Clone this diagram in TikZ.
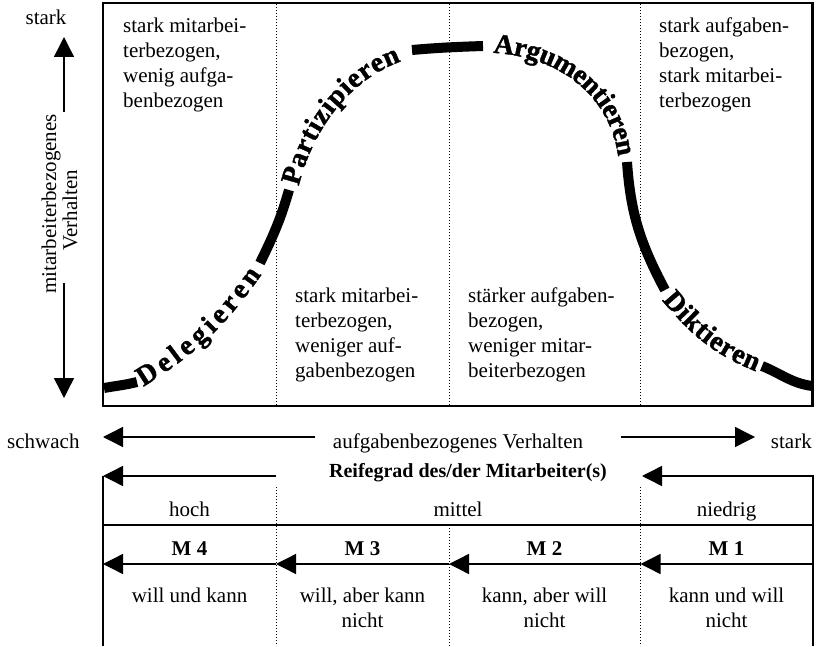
\documentclass[tikz,border=0pt]{standalone}
\usepackage{fontspec}
\setmainfont{Liberation Serif}
\newfontfamily\curvefamily{Liberation Serif Bold}[FakeBold=1.4]
\usetikzlibrary{arrows.meta,decorations.text}

% lettering that follows the bell curve
\newcommand\curvefont{\curvefamily\fontsize{28}{32}\selectfont}

\tikzset{
  frame/.style={line width=2.5pt},
  rulebar/.style={line width=1.6pt},
  guide/.style={line width=0.9pt, dash pattern=on 1pt off 2pt},
  axis/.style={line width=1.4pt, -{Triangle[length=20pt,width=20pt]}},
  band/.style={line width=10pt},
  lbl/.style={inner sep=0pt, font=\fontsize{21}{25}\selectfont},
  boldlbl/.style={lbl, font=\fontsize{21}{25}\selectfont\bfseries},
  curvetext/.style={decorate, decoration={text along path,
      text={|\curvefont|#1}, text align={fit to path}, raise=-8pt}}
}

\begin{document}
\begin{tikzpicture}[x=1pt,y=1pt]
\useasboundingbox (0,0) rectangle (816,646);

% ---------- upper panel ----------
\draw[frame] (103,240) rectangle (812.5,643);
\foreach \gx in {276,449,640.5}
  \draw[guide] (\gx,241.5) -- (\gx,641.5);

% vertical axis: relationship behaviour
\node[lbl, anchor=base] (ystark) at (46,621) {stark};
\coordinate (yup0) at (64,534);
\coordinate (yup1) at (64,609);
\draw[axis] (yup0) -- (yup1);
\coordinate (ydn0) at (64,363);
\coordinate (ydn1) at (64,248);
\draw[axis] (ydn0) -- (ydn1);
\node[lbl, rotate=90, anchor=base] (ylab1) at (56,442) {mitarbeiterbezogenes};
\node[lbl, rotate=90, anchor=base] (ylab2) at (77,436) {Verhalten};

% quadrant descriptions
\node[lbl, anchor=base west] (q1) at (123,613)
  {\begin{tabular}[t]{@{}l@{}}stark mitarbei-\\terbezogen,\\wenig aufga-\\benbezogen\end{tabular}};
\node[lbl, anchor=base west] (q2) at (295,343)
  {\begin{tabular}[t]{@{}l@{}}stark mitarbei-\\terbezogen,\\weniger auf-\\gabenbezogen\end{tabular}};
\node[lbl, anchor=base west] (q3) at (468,343)
  {\begin{tabular}[t]{@{}l@{}}stärker aufgaben-\\bezogen,\\weniger mitar-\\beiterbezogen\end{tabular}};
\node[lbl, anchor=base west] (q4) at (659,613)
  {\begin{tabular}[t]{@{}l@{}}stark aufgaben-\\bezogen,\\stark mitarbei-\\terbezogen\end{tabular}};

% bell curve: solid pieces and lettered pieces
\draw[band] (104,258) to[out=10,in=194] (137,264);
\path[curvetext=Delegieren] (139,266) to[out=32,in=235] (255,376);
\draw[band] (260,383) to[out=64,in=254] (289,456);
\path[curvetext=Partizipieren] (291,462) to[out=76,in=200,looseness=0.9] (398,592);
\draw[band] (412,596) to[out=5,in=182] (483,600);
\path[curvetext=Argumentieren] (494,601) to[out=-3,in=98] (626,491);
\draw[band] (627,484) to[out=-86,in=118] (665,356);
\path[curvetext=Diktieren] (668,351) to[out=-50,in=158] (759,282);
\draw[band] (762,280) to[out=-22,in=172] (812,260);

% ---------- horizontal axis: task behaviour ----------
\node[lbl, anchor=base west] (xweak) at (7,198) {schwach};
\node[lbl, anchor=base] (xlab) at (458,198) {aufgabenbezogenes Verhalten};
\node[lbl, anchor=base east] (xstrong) at (812,198) {stark};
\coordinate (xl0) at (315,209);
\coordinate (xl1) at (103,209);
\coordinate (xr0) at (621,209);
\coordinate (xr1) at (755,209);
\draw[axis] (xl0) -- (xl1);
\draw[axis] (xr0) -- (xr1);

% ---------- maturity table ----------
\node[lbl, anchor=base, font=\fontsize{20}{24}\selectfont\bfseries] (rg) at (468,168.5)
  {Reifegrad des/der Mitarbeiter(s)};
\coordinate (rgL0) at (276,170);
\coordinate (rgL1) at (103,170);
\coordinate (rgLb) at (103,0);
\coordinate (rgR0) at (813,0);
\coordinate (rgRc) at (813,170);
\coordinate (rgR1) at (642,170);
\draw[axis] (rgL0) -- (rgL1);
\draw[rulebar] (rgL1) -- (rgLb);
\draw[axis] (rgR0) -- (rgRc) -- (rgR1);

\draw[guide] (276,159) -- (276,0);
\draw[guide] (640.5,159) -- (640.5,0);
\draw[guide] (449,121) -- (449,0);
\draw[rulebar] (103,121) -- (813,121);

\node[lbl, anchor=base] (hoch) at (189.5,129.3) {hoch};
\node[lbl, anchor=base] (mittel) at (458,129.3) {mittel};
\node[lbl, anchor=base] (niedrig) at (726.5,129.3) {niedrig};

% maturity levels M1 ... M4
\coordinate (m0) at (103,82);
\coordinate (m1) at (276,82);
\coordinate (m2) at (449,82);
\coordinate (m3) at (640.5,82);
\coordinate (m4) at (813,82);
\draw[axis] (m1) -- (m0);
\draw[axis] (m2) -- (m1);
\draw[axis] (m3) -- (m2);
\draw[axis] (m4) -- (m3);

\node[boldlbl, anchor=base] (M4) at (189.5,91) {M 4};
\node[boldlbl, anchor=base] (M3) at (362.5,91) {M 3};
\node[boldlbl, anchor=base] (M2) at (544.5,91) {M 2};
\node[boldlbl, anchor=base] (M1) at (726.5,91) {M 1};

\node[lbl, anchor=base] (d4) at (189.5,44)
  {\begin{tabular}[t]{@{}c@{}}will und kann\end{tabular}};
\node[lbl, anchor=base] (d3) at (362.5,44)
  {\begin{tabular}[t]{@{}c@{}}will, aber kann\\nicht\end{tabular}};
\node[lbl, anchor=base] (d2) at (544.5,44)
  {\begin{tabular}[t]{@{}c@{}}kann, aber will\\nicht\end{tabular}};
\node[lbl, anchor=base] (d1) at (726.5,44)
  {\begin{tabular}[t]{@{}c@{}}kann und will\\nicht\end{tabular}};
\end{tikzpicture}
\end{document}
